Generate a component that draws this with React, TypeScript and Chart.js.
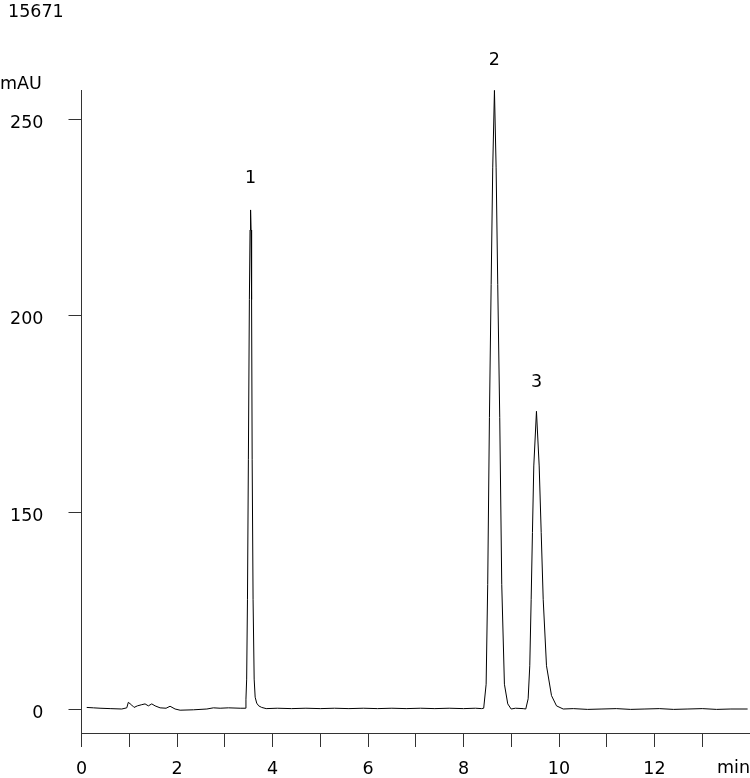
import React, { useEffect, useRef } from "react";
import { Chart, registerables } from "chart.js";

Chart.register(...registerables);

const chartTitle = "15671";
const yUnit = "mAU";
const xUnit = "min";

// retention time (min)
const times = [
  0.109, 0.25, 0.388, 0.6, 0.843, 0.948, 0.981, 1.052, 1.101, 1.17, 1.262, 1.331, 1.4, 1.472, 1.541,
  1.646, 1.771, 1.855, 1.96, 2.065, 2.344, 2.625, 2.763, 2.904, 3.078, 3.323,
  3.428, 3.444, 3.459, 3.476, 3.495, 3.516, 3.53, 3.541, 3.551, 3.562, 3.574, 3.593, 3.616, 3.637,
  3.669, 3.711, 3.774, 3.868,
  4.1, 4.4, 4.7, 5.0, 5.3, 5.6, 5.9, 6.2, 6.5, 6.8, 7.1, 7.4, 7.7, 8.0, 8.25, 8.38,
  8.423, 8.474, 8.507, 8.543, 8.579, 8.612, 8.648, 8.683, 8.717, 8.759, 8.801, 8.857, 8.927, 8.998, 9.088,
  9.25, 9.304, 9.354, 9.388, 9.417, 9.444, 9.472, 9.528, 9.585, 9.627, 9.669, 9.738, 9.843, 9.948, 10.088,
  10.3, 10.6, 10.9, 11.2, 11.5, 11.8, 12.1, 12.4, 12.7, 13.0, 13.3, 13.6, 13.95,
];

// detector signal on the axis scale (the tick labelled "0" sits at 100)
const signal = [
  100.4, 100.3, 100.2, 100.1, 100.0, 100.3, 101.7, 101.0, 100.4, 100.8, 101.1, 101.3, 100.8, 101.3, 100.8,
  100.3, 100.2, 100.7, 100.0, 99.7, 99.8, 100.0, 100.3, 100.2, 100.3, 100.2,
  100.2, 102.5, 107.6, 127.9, 163.5, 204.1, 221.8, 226.9, 221.8, 204.1, 163.5, 127.9, 107.6, 103.0,
  101.5, 100.8, 100.4, 100.1,
  100.2, 100.1, 100.2, 100.1, 100.2, 100.1, 100.2, 100.1, 100.2, 100.1, 100.2, 100.1, 100.2, 100.1, 100.2, 100.1,
  100.2, 106.3, 131.7, 174.1, 207.9, 237.6, 257.3, 237.6, 207.9, 174.1, 131.7, 106.3, 101.3, 100.0, 100.2,
  100.1, 100.0, 102.6, 111.0, 127.9, 144.9, 161.8, 175.7, 161.8, 144.9, 127.9, 111.0, 103.4, 100.8, 100.0,
  100.1, 99.9, 100.0, 100.1, 99.9, 100.0, 100.1, 99.9, 100.0, 100.1, 99.9, 100.0, 100.0,
];

const xTickValues = [0, 1, 2, 3, 4, 5, 6, 7, 8, 9, 10, 11, 12, 13, 14];
const xTickLabels = ["0", "", "2", "", "4", "", "6", "", "8", "", "10", "", "12", "", ""];
const yTickValues = [100, 150, 200, 250];
const yTickLabels = ["0", "150", "200", "250"];

const peakNames = ["1", "2", "3"];
const peakTimes = [3.541, 8.648, 9.528];
const peakLabelLevels = [235.0, 264.9, 183.1];

const FONT = "'DejaVu Sans', Verdana, sans-serif";
const FONT_SIZE = 17.5;

const annotations = {
  id: "annotations",
  afterDraw(chart: any) {
    const ctx = chart.ctx;
    const xs = chart.scales.x;
    const ys = chart.scales.y;
    ctx.save();
    ctx.fillStyle = "#000";
    ctx.font = `${FONT_SIZE}px ${FONT}`;
    ctx.textBaseline = "alphabetic";
    ctx.textAlign = "left";
    ctx.fillText(chartTitle, 8, 17);
    ctx.fillText(yUnit, 0, 89);
    ctx.textAlign = "right";
    ctx.fillText(xUnit, 750, 773);
    ctx.textAlign = "center";
    ctx.textBaseline = "middle";
    for (let i = 0; i < peakNames.length; i++) {
      ctx.fillText(peakNames[i], xs.getPixelForValue(peakTimes[i]), ys.getPixelForValue(peakLabelLevels[i]));
    }
    ctx.restore();
  },
};

export default function App() {
  const ref = useRef<HTMLCanvasElement | null>(null);
  useEffect(() => {
    if (!ref.current) return;
    const chart = new Chart(ref.current, {
      type: "line",
      data: {
        datasets: [
          {
            data: times.map((t, i) => ({ x: t, y: signal[i] })),
            borderColor: "#000",
            borderWidth: 1,
            pointRadius: 0,
            tension: 0,
            fill: false,
          },
        ],
      },
      options: {
        animation: false,
        responsive: false,
        devicePixelRatio: 1,
        layout: { padding: { top: 90, left: 0, right: 0, bottom: 0 } },
        plugins: { legend: { display: false }, tooltip: { enabled: false }, title: { display: false } },
        scales: {
          x: {
            type: "linear",
            min: 0,
            max: 14,
            afterFit: (s: any) => {
              s.height = 45;
              s.paddingLeft = 0;
              s.paddingRight = 0;
            },
            afterBuildTicks: (s: any) => {
              s.ticks = xTickValues.map((v) => ({ value: v }));
            },
            ticks: {
              autoSkip: false,
              maxRotation: 0,
              padding: 12,
              color: "#000",
              font: { family: FONT, size: FONT_SIZE },
              callback: (v: any) => {
                const i = xTickValues.indexOf(Number(v));
                return i >= 0 ? xTickLabels[i] : "";
              },
            },
            grid: { drawOnChartArea: false, drawTicks: true, tickLength: 14, color: "#333" },
            border: { display: true, color: "#333", width: 1 },
          },
          y: {
            type: "linear",
            min: 93.9,
            max: 257.4,
            afterFit: (s: any) => {
              s.width = 81.5;
              s.paddingTop = 0;
              s.paddingBottom = 0;
            },
            afterBuildTicks: (s: any) => {
              s.ticks = yTickValues.map((v) => ({ value: v }));
            },
            ticks: {
              padding: 25,
              labelOffset: 4,
              color: "#000",
              font: { family: FONT, size: FONT_SIZE },
              callback: (v: any) => {
                const i = yTickValues.indexOf(Number(v));
                return i >= 0 ? yTickLabels[i] : "";
              },
            },
            grid: { drawOnChartArea: false, drawTicks: true, tickLength: 13, color: "#333" },
            border: { display: true, color: "#333", width: 1 },
          },
        },
      },
      plugins: [annotations],
    });
    return () => chart.destroy();
  }, []);
  return (
    <div style={{ position: "absolute", left: 0, top: 0, width: 750, height: 778, background: "#fff" }}>
      <canvas ref={ref} width={750} height={778} />
    </div>
  );
}
